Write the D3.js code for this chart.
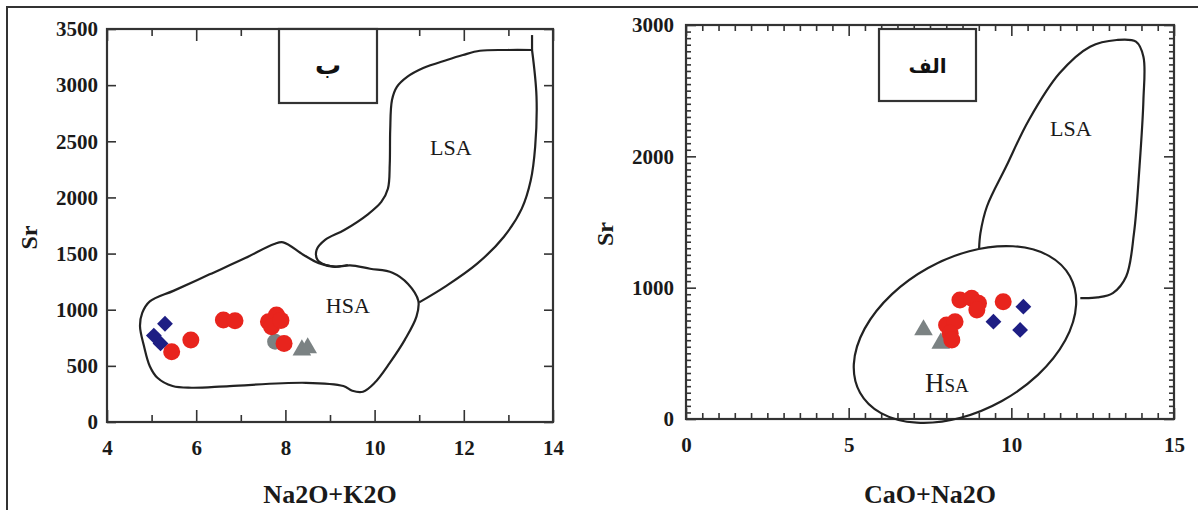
<!DOCTYPE html>
<html>
<head>
<meta charset="utf-8">
<script src="https://cdn.jsdelivr.net/npm/d3@7"></script>
<style>
  html, body { margin: 0; padding: 0; background: #fff; }
  svg { display: block; }
  .tick text { font-family: "Liberation Serif", "Times New Roman", serif; font-weight: bold; font-size: 21px; fill: #1a1a1a; }
  .title { font-family: "Liberation Serif", "Times New Roman", serif; font-weight: bold; fill: #1a1a1a; }
  .field { font-family: "Liberation Serif", "Times New Roman", serif; fill: #1a1a1a; }
  .arabic { font-family: "DejaVu Sans", sans-serif; font-weight: bold; fill: #111; }
</style>
</head>
<body>
<svg id="chart" width="1198" height="510"></svg>
<script>
// ---- Panel "ب": Sr vs Na2O+K2O ----
const alkXTicks = [4, 6, 8, 10, 12, 14];
const alkYTicks = [0, 500, 1000, 1500, 2000, 2500, 3000, 3500];
const alkRed = [[5.45, 626], [5.88, 730], [6.61, 908], [6.87, 902], [7.62, 893], [7.80, 953], [7.69, 849], [7.90, 905], [7.97, 700]];
const alkGrayCircle = [[7.77, 715]];
const alkGrayTri = [[8.37, 641], [8.50, 660]];
const alkBlue = [[5.30, 875], [5.05, 770], [5.20, 700]];
// HSA field (closed)
const alkHSA = [[4.79, 971], [4.96, 1074], [5.5, 1170], [6.3, 1315], [7.1, 1460], [7.75, 1585], [7.95, 1600], [8.4, 1490], [8.75, 1415], [9.1, 1382], [9.45, 1395], [9.9, 1365], [10.4, 1330], [10.75, 1230], [10.98, 1080], [10.94, 941], [10.68, 734], [10.34, 527], [10.0, 349], [9.74, 270], [9.5, 278], [9.3, 320], [8.46, 349], [6.75, 320], [5.9, 305], [5.47, 320], [5.13, 394], [4.96, 497], [4.83, 675], [4.74, 852]];
// LSA field: right edge, top/left edge, and the spike at the top corner
const alkLSARight = [[11.0, 1065], [11.6, 1210], [12.3, 1410], [12.9, 1650], [13.3, 1900], [13.5, 2150], [13.6, 2450], [13.63, 2900], [13.53, 3313]];
const alkLSATop = [[13.53, 3313], [12.97, 3313], [12.36, 3306], [11.98, 3268], [11.62, 3224], [11.09, 3152], [10.73, 3073], [10.5, 2984], [10.39, 2867], [10.35, 2600], [10.34, 2300], [10.3, 2080], [10.15, 1960], [9.85, 1850], [9.32, 1710], [8.89, 1622], [8.70, 1533], [8.72, 1444], [8.89, 1400], [9.15, 1385], [9.4, 1398]];
const alkLSASpike = [[13.53, 3313], [13.53, 3446]];

// ---- Panel "الف": Sr vs CaO+Na2O ----
const caXTicks = [0, 5, 10, 15];
const caYTicks = [0, 1000, 2000, 3000];
const caRed = [[8.42, 906], [8.78, 919], [8.99, 881], [8.94, 830], [9.75, 893], [8.01, 716], [8.27, 741], [8.12, 652], [8.17, 602]];
const caGrayTri = [[7.30, 678], [7.83, 576]];
const caBlue = [[10.37, 855], [9.45, 741], [10.27, 678]];
// HSA field is an ellipse: two ends of its long axis and one end of its short axis
const caHSAMajor = [[11.80, 1087], [5.35, 200]];
const caHSAMinor = [9.71, 137];
const caLSA = [[9.01, 1301], [9.05, 1415], [9.25, 1618], [9.84, 1922], [10.54, 2277], [11.48, 2632], [12.42, 2835], [13.24, 2886], [13.83, 2873], [14.06, 2759], [14.06, 2429], [13.94, 1922], [13.77, 1415], [13.53, 1085], [13.12, 959], [12.65, 926], [12.12, 921]];

const svg = d3.select("#chart");
const ink = "#222";

// outer frame
svg.append("path").attr("d", "M7,512 L7,7 L1198,7").attr("fill", "none").attr("stroke", "#333").attr("stroke-width", 2);

function panel(cfg) {
  const x = d3.scaleLinear().domain(cfg.xDomain).range([cfg.left, cfg.right]);
  const y = d3.scaleLinear().domain(cfg.yDomain).range([cfg.bottom, cfg.top]);
  const g = svg.append("g");

  // ticks (inward on all four sides)
  const tickGroup = (axis, tx, ty) => {
    const a = g.append("g").attr("transform", `translate(${tx},${ty})`).call(axis);
    a.select(".domain").remove();
    a.selectAll(".tick line").attr("stroke", "#333").attr("stroke-width", 1.6);
    return a;
  };
  tickGroup(d3.axisBottom(x).tickValues(cfg.xMinor).tickSizeInner(-cfg.xMinorLen).tickSizeOuter(0).tickFormat(""), 0, cfg.bottom);
  tickGroup(d3.axisTop(x).tickValues(cfg.xMinor).tickSizeInner(-cfg.xMinorLen).tickSizeOuter(0).tickFormat(""), 0, cfg.top);
  tickGroup(d3.axisBottom(x).tickValues(cfg.xTicks).tickSizeInner(-cfg.xMajorLen).tickSizeOuter(0).tickPadding(cfg.xPad).tickFormat(d3.format("d")), 0, cfg.bottom);
  tickGroup(d3.axisTop(x).tickValues(cfg.xTicks).tickSizeInner(-cfg.xMajorLen).tickSizeOuter(0).tickFormat(""), 0, cfg.top);
  tickGroup(d3.axisLeft(y).tickValues(cfg.yMinor).tickSizeInner(-cfg.yMinorLen).tickSizeOuter(0).tickFormat(""), cfg.left, 0);
  tickGroup(d3.axisRight(y).tickValues(cfg.yMinor).tickSizeInner(-cfg.yMinorLen).tickSizeOuter(0).tickFormat(""), cfg.right, 0);
  tickGroup(d3.axisLeft(y).tickValues(cfg.yTicks).tickSizeInner(-cfg.yMajorLen).tickSizeOuter(0).tickPadding(cfg.yPad).tickFormat(d3.format("d")), cfg.left, 0);
  tickGroup(d3.axisRight(y).tickValues(cfg.yTicks).tickSizeInner(-cfg.yMajorLen).tickSizeOuter(0).tickFormat(""), cfg.right, 0);

  // plot frame
  g.append("rect").attr("x", cfg.left).attr("y", cfg.top).attr("width", cfg.right - cfg.left).attr("height", cfg.bottom - cfg.top)
    .attr("fill", "none").attr("stroke", "#333").attr("stroke-width", 2.2);

  // field outlines
  const line = d3.line().x(d => x(d[0])).y(d => y(d[1]));
  (cfg.closed || []).forEach(pts => {
    g.append("path").attr("d", line.curve(d3.curveCatmullRomClosed.alpha(0.5))(pts))
      .attr("fill", "none").attr("stroke", ink).attr("stroke-width", 2.2);
  });
  (cfg.open || []).forEach(pts => {
    g.append("path").attr("d", line.curve(d3.curveCatmullRom.alpha(0.5))(pts))
      .attr("fill", "none").attr("stroke", ink).attr("stroke-width", 2.2);
  });
  if (cfg.ellipse) {
    const [p, q] = cfg.ellipse.major.map(d => [x(d[0]), y(d[1])]);
    const m = [x(cfg.ellipse.minor[0]), y(cfg.ellipse.minor[1])];
    const cx = (p[0] + q[0]) / 2, cy = (p[1] + q[1]) / 2;
    const rx = Math.hypot(p[0] - q[0], p[1] - q[1]) / 2;
    const ry = Math.hypot(m[0] - cx, m[1] - cy);
    const ang = Math.atan2(p[1] - q[1], p[0] - q[0]) * 180 / Math.PI;
    g.append("ellipse").attr("cx", cx).attr("cy", cy).attr("rx", rx).attr("ry", ry)
      .attr("transform", `rotate(${ang},${cx},${cy})`)
      .attr("fill", "none").attr("stroke", ink).attr("stroke-width", 2.2);
  }

  // label box
  g.append("rect").attr("x", cfg.box[0]).attr("y", cfg.box[1]).attr("width", cfg.box[2]).attr("height", cfg.box[3])
    .attr("fill", "#fff").attr("stroke", "#333").attr("stroke-width", 2.2);
  g.append("text").attr("class", "arabic").attr("x", cfg.box[0] + cfg.box[2] / 2).attr("y", cfg.box[1] + cfg.box[3] / 2 + 8)
    .attr("text-anchor", "middle").attr("font-size", cfg.boxFont).attr("direction", "rtl").text(cfg.boxText);

  // markers
  const gray = "#7b8283", red = "#e8241d", blue = "#1e1e84";
  (cfg.grayCircle || []).forEach(d => g.append("circle").attr("cx", x(d[0])).attr("cy", y(d[1])).attr("r", 8).attr("fill", gray));
  (cfg.grayTri || []).forEach(d => g.append("path").attr("transform", `translate(${x(d[0])},${y(d[1])})`)
    .attr("d", d3.symbol(d3.symbolTriangle, 150)()).attr("fill", gray));
  cfg.red.forEach(d => g.append("circle").attr("cx", x(d[0])).attr("cy", y(d[1])).attr("r", 8.5).attr("fill", red));
  cfg.blue.forEach(d => g.append("path").attr("transform", `translate(${x(d[0])},${y(d[1])}) rotate(45)`)
    .attr("d", d3.symbol(d3.symbolSquare, 125)()).attr("fill", blue));

  // axis titles
  g.append("text").attr("class", "title").attr("x", (cfg.left + cfg.right) / 2).attr("y", cfg.xTitleY)
    .attr("text-anchor", "middle").attr("font-size", 26).text(cfg.xTitle);
  g.append("text").attr("class", "title").attr("transform", `translate(${cfg.yTitleX},${(cfg.top + cfg.bottom) / 2 + 12}) rotate(-90)`)
    .attr("text-anchor", "middle").attr("font-size", 24).text("Sr");

  return { x, y, g };
}

// left panel
const pB = panel({
  id: "b", left: 107, right: 553, top: 29, bottom: 422,
  xDomain: [4, 14], yDomain: [0, 3500],
  xTicks: alkXTicks, xMinor: [5, 7, 9, 11, 13], xMajorLen: 12, xMinorLen: 7,
  yTicks: alkYTicks, yMinor: [], yMajorLen: 9, yMinorLen: 5,
  xPad: 18, yPad: 9,
  closed: [alkHSA], open: [alkLSARight, alkLSATop, alkLSASpike],
  box: [279, 29, 98, 74], boxText: "ب", boxFont: 26,
  red: alkRed, blue: alkBlue, grayCircle: alkGrayCircle, grayTri: alkGrayTri,
  xTitle: "Na2O+K2O", xTitleY: 503, yTitleX: 37
});
pB.g.append("text").attr("class", "field").attr("x", pB.x(11.71)).attr("y", pB.y(2450) + 8).attr("text-anchor", "middle").attr("font-size", 22).text("LSA");
pB.g.append("text").attr("class", "field").attr("x", pB.x(9.4)).attr("y", pB.y(1045) + 8).attr("text-anchor", "middle").attr("font-size", 22).text("HSA");

// right panel
const pA = panel({
  id: "a", left: 686, right: 1174, top: 25, bottom: 419,
  xDomain: [0, 15], yDomain: [0, 3000],
  xTicks: caXTicks, xMinor: d3.range(0.5, 15, 0.5).filter(v => v % 5 !== 0), xMajorLen: 11, xMinorLen: 6,
  yTicks: caYTicks, yMinor: d3.range(50, 3000, 50).filter(v => v % 1000 !== 0), yMajorLen: 10, yMinorLen: 5,
  xPad: 18, yPad: 12,
  open: [caLSA], ellipse: { major: caHSAMajor, minor: caHSAMinor },
  box: [879, 29, 97, 72], boxText: "الف", boxFont: 20,
  red: caRed, blue: caBlue, grayTri: caGrayTri,
  xTitle: "CaO+Na2O", xTitleY: 503, yTitleX: 613
});
pA.g.append("text").attr("class", "field").attr("x", pA.x(11.83)).attr("y", pA.y(2214) + 8).attr("text-anchor", "middle").attr("font-size", 22).text("LSA");
const hsa = pA.g.append("text").attr("class", "field").attr("x", pA.x(8.02)).attr("y", pA.y(274) + 9).attr("text-anchor", "middle");
hsa.append("tspan").attr("font-size", 27).text("H");
hsa.append("tspan").attr("font-size", 19).text("SA");
</script>
</body>
</html>
